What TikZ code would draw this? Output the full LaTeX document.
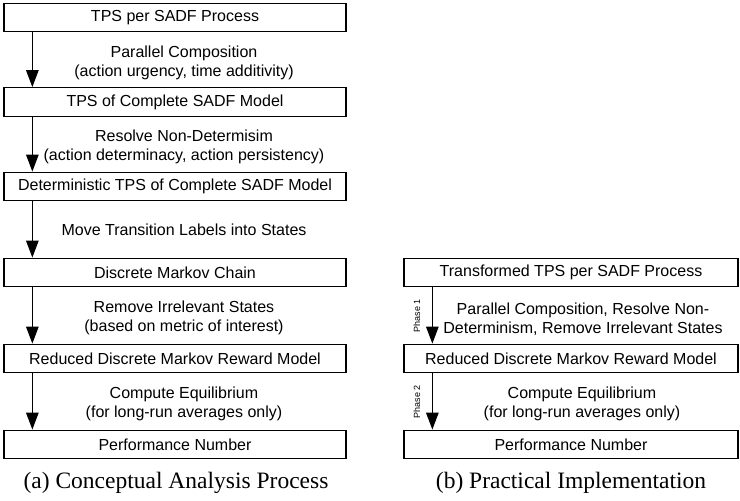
\documentclass[tikz,border=0pt]{standalone}
\usepackage{fontspec}
\setmainfont{Liberation Serif}
\setsansfont{Liberation Sans}
\usetikzlibrary{arrows.meta}
\tikzset{
  stepbox/.style={draw, line width=1.3pt, inner sep=0pt, minimum height=28.5pt,
    font=\sffamily\fontsize{16}{18.5}\selectfont},
  leftbox/.style={stepbox, minimum width=342pt},
  rightbox/.style={stepbox, minimum width=334pt},
  flow/.style={line width=1.3pt, -{Triangle[length=17pt,width=12.5pt]}},
  steplabel/.style={align=center, inner sep=0pt, font=\sffamily\fontsize{16}{19.5}\selectfont},
  phaselabel/.style={rotate=90, inner sep=0pt, font=\sffamily\fontsize{9}{11}\selectfont},
  caption/.style={inner sep=0pt, font=\rmfamily\fontsize{23.5}{26}\selectfont}
}
\begin{document}
\begin{tikzpicture}[x=1pt, y=-1pt]
\useasboundingbox (0,0) rectangle (740,501);

% (a) conceptual chain of models
\node[leftbox] (a1) at (175,17.5) {TPS per SADF Process};
\node[leftbox] (a2) at (175,102) {TPS of Complete SADF Model};
\node[leftbox] (a3) at (175,186.5) {Deterministic TPS of Complete SADF Model};
\node[leftbox] (a4) at (175,272.5) {Discrete Markov Chain};
\node[leftbox] (a5) at (175,358.5) {Reduced Discrete Markov Reward Model};
\node[leftbox] (a6) at (175,444.5) {Performance Number};

\foreach \s/\t in {a1/a2, a2/a3, a3/a4, a4/a5, a5/a6}
  \draw[flow] ([xshift=29pt]\s.south west) -- ([xshift=29pt]\t.north west);

\node[steplabel] (la1) at (184,63) {Parallel Composition\\(action urgency, time additivity)};
\node[steplabel] (la2) at (184,147) {Resolve Non-Determisim\\(action determinacy, action persistency)};
\node[steplabel] (la3) at (184,230) {Move Transition Labels into States};
\node[steplabel] (la4) at (184,318) {Remove Irrelevant States\\(based on metric of interest)};
\node[steplabel] (la5) at (184,404) {Compute Equilibrium\\(for long-run averages only)};

\node[caption] (capa) at (176,483) {(a) Conceptual Analysis Process};

% (b) implemented chain
\node[rightbox] (b1) at (571,272.5) {Transformed TPS per SADF Process};
\node[rightbox] (b2) at (571,358.5) {Reduced Discrete Markov Reward Model};
\node[rightbox] (b3) at (571,444.5) {Performance Number};

\draw[flow] ([xshift=29pt]b1.south west) -- ([xshift=29pt]b2.north west);
\draw[flow] ([xshift=29pt]b2.south west) -- ([xshift=29pt]b3.north west);

\node[phaselabel] (p1) at (417,315.5) {Phase 1};
\node[phaselabel] (p2) at (417,401.5) {Phase 2};

\node[steplabel] (lb1) at (583,319) {Parallel Composition, Resolve Non-\\Determinism, Remove Irrelevant States};
\node[steplabel] (lb2) at (582,404) {Compute Equilibrium\\(for long-run averages only)};

\node[caption] (capb) at (571,483) {(b) Practical Implementation};
\end{tikzpicture}
\end{document}
